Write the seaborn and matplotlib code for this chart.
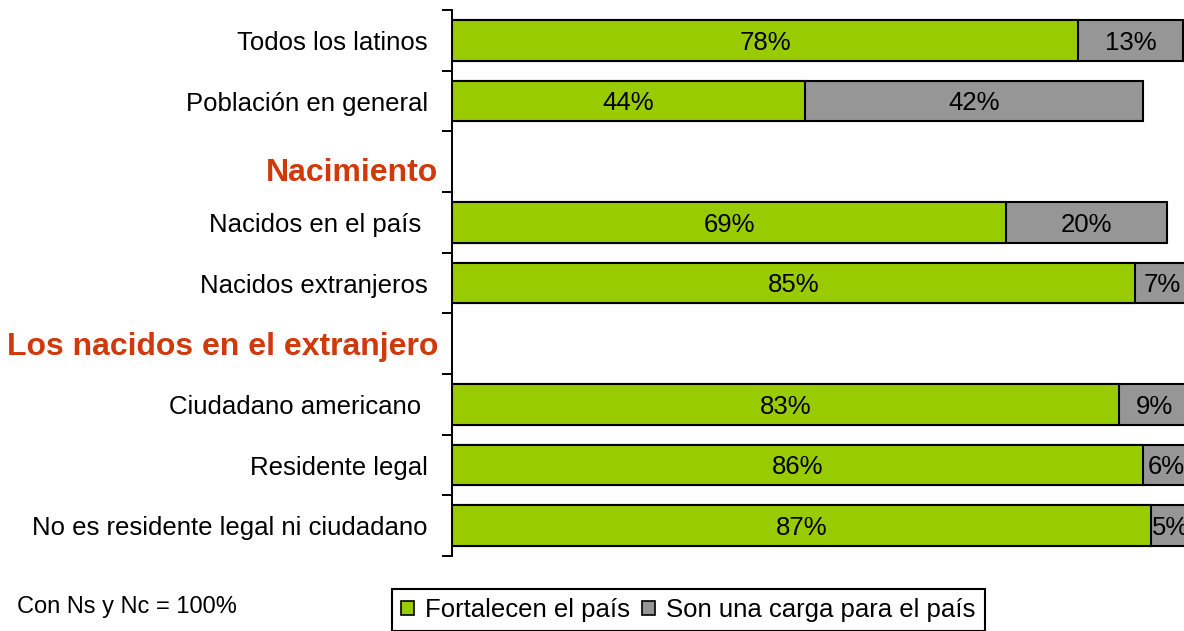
import matplotlib
matplotlib.use("Agg")
import matplotlib.pyplot as plt
import seaborn as sns
import pandas as pd
import numpy as np
from matplotlib.patches import Patch

# ---------------- data ----------------
categories = ["Todos los latinos", "Población en general", "Nacimiento",
              "Nacidos en el país ", "Nacidos extranjeros",
              "Los nacidos en el extranjero", "Ciudadano americano ",
              "Residente legal", "No es residente legal ni ciudadano"]
headers = ["Nacimiento", "Los nacidos en el extranjero"]
fortalecen = [78, 44, np.nan, 69, 85, np.nan, 83, 86, 87]
carga = [13, 42, np.nan, 20, 7, np.nan, 9, 6, 5]
series_names = ["Fortalecen el país", "Son una carga para el país"]
footnote = "Con Ns y Nc = 100%"

# ---------------- style ----------------
GREEN = "#99CC00"
GRAY = "#969696"
HEADER_COLOR = "#D0390B"
FS = 18.5

sns.set_style("white")
plt.rcParams["font.family"] = ["Liberation Sans", "DejaVu Sans"]
plt.rcParams["text.color"] = "black"
plt.rcParams["ytick.color"] = "black"
plt.rcParams["ytick.labelcolor"] = "black"

df = pd.DataFrame({"cat": categories, "pos": range(len(categories)),
                   "fort": fortalecen, "carga": carga})
df["total"] = df["fort"] + df["carga"]
real = df[~df["cat"].isin(headers)].copy()

fig = plt.figure(figsize=(11.84, 6.31), dpi=100)
ax = fig.add_axes([452 / 1184, 1 - 556 / 631, 1 - 452 / 1184, (556 - 10) / 631])

bw = 0.67
sns.barplot(data=real, x="total", y="pos", orient="y", native_scale=True,
            color=GRAY, saturation=1, edgecolor="black", linewidth=1.5,
            width=bw, ax=ax, errorbar=None)
sns.barplot(data=real, x="fort", y="pos", orient="y", native_scale=True,
            color=GREEN, saturation=1, edgecolor="black", linewidth=1.5,
            width=bw, ax=ax, errorbar=None)

# value labels
for _, r in real.iterrows():
    ax.text(r["fort"] / 2, r["pos"], f"{int(r['fort'])}%", ha="center",
            va="center_baseline", fontsize=FS, color="black")
    ax.text(r["fort"] + r["carga"] / 2, r["pos"], f"{int(r['carga'])}%",
            ha="center", va="center_baseline", fontsize=FS, color="black",
            clip_on=False)

ax.set_xlim(0, 91.15)
ax.set_ylim(len(categories) - 0.5, -0.5)

# ticks
ax.set_yticks(real["pos"].tolist())
ax.set_yticklabels(real["cat"].tolist(), fontsize=FS, color="black")
ax.set_yticks(np.arange(-0.5, len(categories), 1.0), minor=True)
ax.tick_params(axis="y", which="major", length=0, pad=17.3,
               labelcolor="black")
ax.tick_params(axis="y", which="minor", length=7.2, width=1.4,
               color="black", direction="out", left=True)
ax.set_xticks([])
ax.set_xlabel("")
ax.set_ylabel("")

for s in ["top", "right", "bottom"]:
    ax.spines[s].set_visible(False)
ax.spines["left"].set_color("black")
ax.spines["left"].set_linewidth(1.4)

# header labels
header_offsets = {"Nacimiento": 0.18, "Los nacidos en el extranjero": 0.05}
for h in headers:
    p = categories.index(h)
    ax.annotate(h, xy=(0, p + header_offsets[h]),
                xycoords=("axes fraction", "data"),
                xytext=(-14, 0), textcoords="offset pixels",
                ha="right", va="center", fontsize=23, fontweight="bold",
                color=HEADER_COLOR, annotation_clip=False)

# legend
handles = [Patch(facecolor=GREEN, edgecolor="black", linewidth=1.2),
           Patch(facecolor=GRAY, edgecolor="black", linewidth=1.2)]
leg = fig.legend(handles, series_names, loc="upper left",
                 bbox_to_anchor=(392 / 1184, 1 - 589 / 631), ncol=2,
                 frameon=True, fancybox=False, edgecolor="black",
                 fontsize=FS, handlelength=0.5, handleheight=0.5,
                 handletextpad=0.45, columnspacing=0.45, borderpad=0.35,
                 borderaxespad=0, labelcolor="black")
leg.get_frame().set_linewidth(1.5)
leg.get_frame().set_alpha(None)

fig.text(17 / 1184, 1 - 607 / 631, footnote, fontsize=17, va="center",
         ha="left", color="black")

fig.savefig("out.png", dpi=100)
